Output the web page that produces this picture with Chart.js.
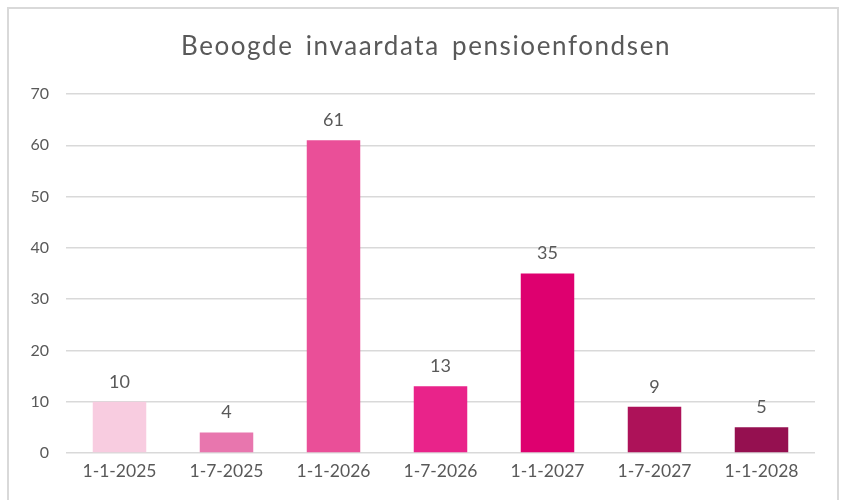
<!DOCTYPE html>
<html>
<head>
<meta charset="utf-8">
<script src="https://cdn.jsdelivr.net/npm/chart.js@4"></script>
<style>
  body { margin: 0; background: #fff; }
  #frame { position: absolute; left: 7px; top: 7px; width: 832px; height: 500px; border: 2px solid #d9d9d9; box-sizing: border-box; }
  #wrap { position: absolute; left: 0; top: 0; width: 844px; height: 500px; }
</style>
</head>
<body>
<div id="frame"></div>
<div id="wrap"><canvas id="myBarChart" width="844" height="500"></canvas></div>
<script>
// Data
const categorieen = ['1-1-2025', '1-7-2025', '1-1-2026', '1-7-2026', '1-1-2027', '1-7-2027', '1-1-2028'];
const aantallen = [10, 4, 61, 13, 35, 9, 5];
const kleuren = ['#F8CCE0', '#E876AE', '#EA4F98', '#E9238A', '#DE006F', '#AD1259', '#951050'];
const titel = 'Beoogde invaardata pensioenfondsen';

const grijs = '#595959';
const lijn = '#d9d9d9';

// titel met wat extra letter- en woordafstand (zoals in het origineel)
const titelPlugin = {
  id: 'titel',
  afterDraw(chart) {
    const ctx = chart.ctx;
    ctx.save();
    ctx.font = '26px Lato';
    ctx.fillStyle = grijs;
    ctx.textAlign = 'center';
    ctx.textBaseline = 'middle';
    ctx.letterSpacing = '1.6px';
    ctx.wordSpacing = '4px';
    ctx.fillText(titel, 426, 47);
    ctx.restore();
  }
};

// waardes boven de balken
const labelPlugin = {
  id: 'labels',
  afterDatasetsDraw(chart) {
    const ctx = chart.ctx;
    const meta = chart.getDatasetMeta(0);
    ctx.save();
    ctx.font = '18px Lato';
    ctx.fillStyle = grijs;
    ctx.textAlign = 'center';
    ctx.textBaseline = 'bottom';
    meta.data.forEach((bar, i) => {
      ctx.fillText(chart.data.datasets[0].data[i], bar.x, bar.y - 11);
    });
    ctx.restore();
  }
};

const ctx = document.getElementById('myBarChart').getContext('2d');
new Chart(ctx, {
  type: 'bar',
  data: {
    labels: categorieen,
    datasets: [{
      data: aantallen,
      backgroundColor: kleuren,
      barPercentage: 0.5,
      categoryPercentage: 1
    }]
  },
  options: {
    responsive: false,
    animation: false,
    layout: { padding: { left: 0, right: 29, top: 94, bottom: 0 } },
    plugins: {
      legend: { display: false },
      tooltip: { enabled: false },
      title: { display: false }
    },
    scales: {
      x: {
        grid: { display: false, drawTicks: false },
        border: { display: false },
        ticks: { color: grijs, font: { family: 'Lato', size: 17.5 }, padding: 8, maxRotation: 0 },
        afterFit(scale) { scale.height = 47; }
      },
      y: {
        min: 0,
        max: 70,
        grid: { color: lijn, lineWidth: 1.5, drawTicks: false },
        border: { display: false },
        ticks: { stepSize: 10, color: grijs, font: { family: 'Lato', size: 16 }, padding: 17 },
        afterFit(scale) { scale.width = 66; }
      }
    }
  },
  plugins: [labelPlugin, titelPlugin]
});
</script>
</body>
</html>
